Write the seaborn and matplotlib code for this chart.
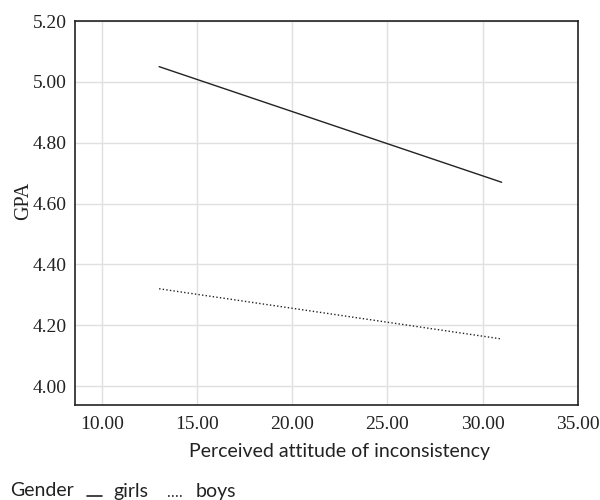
import numpy as np
import pandas as pd
import matplotlib
matplotlib.use("Agg")
import matplotlib.pyplot as plt
import seaborn as sns
from matplotlib.lines import Line2D
from matplotlib.legend_handler import HandlerLine2D

# ---------------------------------------------------
# DATA
# ---------------------------------------------------

attitude = [13.0, 31.0]
gpa_girls = [5.05, 4.67]
gpa_boys = [4.32, 4.155]

x_ticks = [10, 15, 20, 25, 30, 35]
y_ticks = [4.00, 4.20, 4.40, 4.60, 4.80, 5.00, 5.20]

df = pd.DataFrame({
    "attitude": attitude + attitude,
    "GPA": gpa_girls + gpa_boys,
    "Gender": ["girls"] * len(attitude) + ["boys"] * len(attitude)
})

# ---------------------------------------------------
# PLOT
# ---------------------------------------------------

sns.set_theme(style="whitegrid")
plt.rcParams["font.family"] = ["Liberation Serif", "DejaVu Serif"]

sans = ["Lato", "DejaVu Sans"]
ink = "#222222"

fig = plt.figure(figsize=(6, 5), dpi=100)
ax = fig.add_axes([0.125, 0.19, 0.838, 0.768])

sns.lineplot(
    data=df,
    x="attitude",
    y="GPA",
    hue="Gender",
    style="Gender",
    palette={"girls": ink, "boys": ink},
    dashes={"girls": "", "boys": (1, 1.6)},
    linewidth=1.0,
    legend=False,
    ax=ax
)

ax.set_xlim(8.58, 35.0)
ax.set_ylim(3.938, 5.20)
ax.set_xticks(x_ticks)
ax.set_yticks(y_ticks)
ax.set_xticklabels([f"{t:.2f}" for t in x_ticks], fontsize=14, color=ink)
ax.set_yticklabels([f"{t:.2f}" for t in y_ticks], fontsize=14, color=ink)
ax.tick_params(axis="x", length=0, pad=8)
ax.tick_params(axis="y", length=0, pad=6)

ax.grid(True, color="#e0e0e0", linewidth=1.0)
for side in ax.spines.values():
    side.set_color(ink)
    side.set_linewidth(1.2)

ax.set_xlabel(
    "Perceived attitude of inconsistency",
    fontsize=14,
    family=sans,
    color=ink
)
ax.xaxis.set_label_coords(0.527, -0.10)
ax.set_ylabel("GPA", fontsize=14.5, color=ink)
ax.yaxis.set_label_coords(-0.083, 0.531)

# legend along the bottom
fig.text(0.017, 0.008, "Gender", fontsize=14, family=sans, color=ink)


class BaselineLine(HandlerLine2D):
    # draw the legend key low, like an underscore
    def create_artists(self, legend, orig_handle, xdescent, ydescent,
                       width, height, fontsize, trans):
        artists = super().create_artists(legend, orig_handle, xdescent,
                                         ydescent, width, height,
                                         fontsize, trans)
        for a in artists:
            a.set_ydata(np.full_like(a.get_xdata(), 0.5, dtype=float))
        return artists


handles = [
    Line2D([], [], color=ink, linewidth=1.2, linestyle="-"),
    Line2D([], [], color=ink, linewidth=1.2, linestyle=(0, (1, 1.4)))
]

fig.legend(
    handles,
    ["girls", "boys"],
    loc="lower left",
    bbox_to_anchor=(0.115, -0.035),
    ncol=2,
    frameon=False,
    handlelength=0.8,
    handletextpad=0.6,
    columnspacing=1.0,
    prop={"family": sans, "size": 14},
    labelcolor=ink,
    handler_map={Line2D: BaselineLine()}
)

fig.savefig("out.png", dpi=100)
